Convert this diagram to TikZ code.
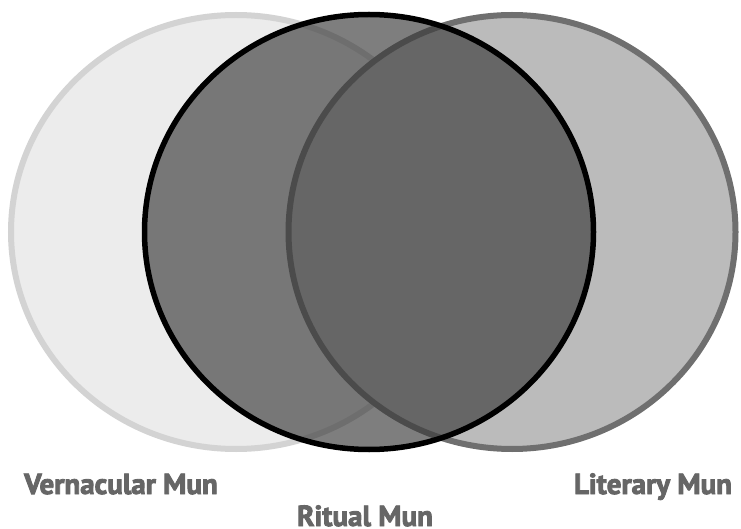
\documentclass[tikz,border=0pt]{standalone}
\usepackage{fontspec}
\setmainfont{PT Sans}[BoldFeatures={FakeBold=3}]
\definecolor{leftfill}{HTML}{ECECEC}
\definecolor{leftline}{HTML}{D3D3D3}
\definecolor{rightfill}{HTML}{BBBBBB}
\definecolor{rightline}{HTML}{6F6F6F}
\definecolor{midfill}{HTML}{393939}
\definecolor{labelcol}{HTML}{666666}
\begin{document}
\begin{tikzpicture}[x=1pt,y=-1pt,
  setshape/.style={line width=6pt},
  lbl/.style={anchor=base, inner sep=0pt, text=labelcol, font=\fontsize{29}{32}\selectfont\bfseries}]
\useasboundingbox (0,0) rectangle (741,529);
\path[setshape, fill=leftfill, draw=leftline] (236,232) ellipse [x radius=225pt, y radius=217pt];
\path[setshape, fill=rightfill, draw=rightline] (512,232) ellipse [x radius=223.5pt, y radius=217pt];
\path[setshape, line width=5.5pt, fill=midfill, fill opacity=0.65, draw=black] (369,232) ellipse [x radius=224.5pt, y radius=217.5pt];
\node[lbl] (vern) at (121,494) {Vernacular Mun};
\node[lbl] (lit) at (653,494) {Literary Mun};
\node[lbl] (rit) at (365,526) {Ritual Mun};
\end{tikzpicture}
\end{document}
